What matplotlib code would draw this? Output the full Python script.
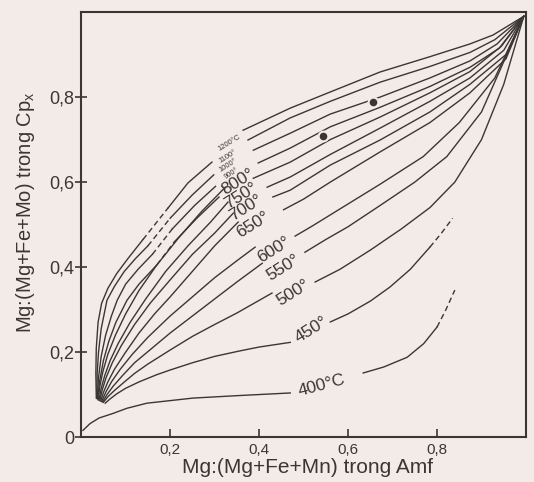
import numpy as np
import matplotlib.pyplot as plt

plt.rcParams['font.family'] = ['Liberation Sans', 'DejaVu Sans']
plt.rcParams['mathtext.fontset'] = 'custom'
plt.rcParams['mathtext.rm'] = 'Liberation Sans'

# --- isotherms (x = Mg# in Amf, y = Mg# in Cpx) ---
# a = lower-left part, d = dashed part, b = middle part, c = right of the label
x1200a = [0.034, 0.033, 0.034, 0.038, 0.046, 0.06, 0.08, 0.105, 0.139]
y1200a = [0.092, 0.15, 0.21, 0.27, 0.315, 0.35, 0.385, 0.42, 0.465]
x1200d = [0.139, 0.196]
y1200d = [0.465, 0.54]
x1200b = [0.196, 0.24, 0.294]
y1200b = [0.54, 0.598, 0.647]
x1200c = [0.364, 0.47, 0.56, 0.672, 0.784, 0.874, 0.926, 0.995]
y1200c = [0.722, 0.774, 0.812, 0.859, 0.895, 0.925, 0.946, 0.99]

x1100a = [0.035, 0.036, 0.039, 0.045, 0.058, 0.075, 0.097, 0.122, 0.15]
y1100a = [0.092, 0.15, 0.2, 0.255, 0.322, 0.355, 0.39, 0.42, 0.45]
x1100d = [0.15, 0.2]
y1100d = [0.45, 0.515]
x1100b = [0.2, 0.25, 0.298]
y1100b = [0.515, 0.57, 0.617]
x1100c = [0.375, 0.47, 0.56, 0.672, 0.784, 0.874, 0.93, 0.995]
y1100c = [0.699, 0.751, 0.79, 0.835, 0.872, 0.905, 0.935, 0.99]

x1000a = [0.036, 0.039, 0.045, 0.055, 0.068, 0.081, 0.1, 0.128, 0.16]
y1000a = [0.091, 0.14, 0.19, 0.24, 0.285, 0.322, 0.36, 0.395, 0.43]
x1000d = [0.16, 0.205]
y1000d = [0.43, 0.49]
x1000b = [0.205, 0.255, 0.302]
y1000b = [0.49, 0.545, 0.59]
x1000c = [0.387, 0.47, 0.56, 0.672, 0.784, 0.874, 0.935, 0.995]
y1000c = [0.675, 0.715, 0.76, 0.80, 0.845, 0.885, 0.925, 0.99]

x900a = [0.037, 0.042, 0.05, 0.062, 0.078, 0.103, 0.13, 0.17]
y900a = [0.09, 0.135, 0.18, 0.225, 0.27, 0.322, 0.36, 0.405]
x900d = [0.17, 0.21]
y900d = [0.405, 0.46]
x900b = [0.21, 0.26, 0.31]
y900b = [0.46, 0.515, 0.565]
x900c = [0.398, 0.47, 0.56, 0.672, 0.784, 0.874, 0.94, 0.995]
y900c = [0.645, 0.68, 0.73, 0.776, 0.825, 0.87, 0.915, 0.99]

x800a = [0.038, 0.042, 0.049, 0.06, 0.077, 0.1, 0.13, 0.17, 0.22, 0.27, 0.324]
y800a = [0.088, 0.12, 0.155, 0.195, 0.24, 0.29, 0.345, 0.405, 0.47, 0.53, 0.588]
x800c = [0.387, 0.47, 0.56, 0.672, 0.784, 0.874, 0.945, 0.995]
y800c = [0.609, 0.647, 0.70, 0.753, 0.81, 0.86, 0.92, 0.99]

x750a = [0.04, 0.045, 0.053, 0.065, 0.083, 0.11, 0.145, 0.19, 0.24, 0.29, 0.33]
y750a = [0.087, 0.115, 0.145, 0.18, 0.22, 0.27, 0.325, 0.39, 0.45, 0.505, 0.553]
x750c = [0.418, 0.47, 0.56, 0.672, 0.784, 0.874, 0.95, 0.995]
y750c = [0.588, 0.612, 0.665, 0.727, 0.79, 0.845, 0.91, 0.99]

x700a = [0.042, 0.047, 0.056, 0.07, 0.09, 0.12, 0.155, 0.2, 0.25, 0.3, 0.342]
y700a = [0.086, 0.11, 0.14, 0.175, 0.215, 0.265, 0.315, 0.37, 0.43, 0.48, 0.527]
x700c = [0.431, 0.47, 0.56, 0.672, 0.784, 0.874, 0.955, 0.995]
y700c = [0.565, 0.581, 0.64, 0.699, 0.765, 0.83, 0.9, 0.99]

x650a = [0.044, 0.05, 0.06, 0.075, 0.1, 0.13, 0.165, 0.2, 0.25, 0.3, 0.353]
y650a = [0.085, 0.105, 0.13, 0.16, 0.2, 0.245, 0.29, 0.33, 0.39, 0.45, 0.506]
x650c = [0.455, 0.5, 0.56, 0.672, 0.784, 0.874, 0.955, 0.995]
y650c = [0.535, 0.56, 0.6, 0.671, 0.74, 0.81, 0.89, 0.99]

x600a = [0.046, 0.055, 0.068, 0.088, 0.115, 0.15, 0.2, 0.25, 0.3, 0.35, 0.391]
y600a = [0.084, 0.105, 0.13, 0.16, 0.195, 0.235, 0.285, 0.33, 0.375, 0.415, 0.447]
x600c = [0.481, 0.52, 0.582, 0.672, 0.769, 0.85, 0.93, 0.995]
y600c = [0.473, 0.497, 0.537, 0.595, 0.66, 0.74, 0.845, 0.99]

x550a = [0.048, 0.058, 0.072, 0.093, 0.12, 0.16, 0.2, 0.25, 0.3, 0.35, 0.407]
y550a = [0.083, 0.1, 0.12, 0.145, 0.175, 0.21, 0.245, 0.285, 0.325, 0.365, 0.409]
x550c = [0.503, 0.55, 0.6, 0.672, 0.75, 0.822, 0.9, 0.995]
y550c = [0.435, 0.465, 0.495, 0.545, 0.6, 0.66, 0.765, 0.99]

x500a = [0.05, 0.06, 0.075, 0.095, 0.12, 0.15, 0.2, 0.25, 0.3, 0.35, 0.429]
y500a = [0.082, 0.095, 0.11, 0.128, 0.15, 0.172, 0.205, 0.237, 0.265, 0.292, 0.339]
x500c = [0.526, 0.582, 0.65, 0.72, 0.784, 0.84, 0.9, 0.95, 0.995]
y500c = [0.365, 0.395, 0.44, 0.49, 0.54, 0.6, 0.7, 0.83, 0.99]

x450a = [0.054, 0.065, 0.08, 0.1, 0.13, 0.17, 0.2, 0.25, 0.3, 0.357, 0.4, 0.47]
y450a = [0.08, 0.09, 0.102, 0.115, 0.13, 0.147, 0.158, 0.175, 0.19, 0.203, 0.212, 0.223]
x450c = [0.56, 0.6, 0.65, 0.694, 0.74, 0.784]
y450c = [0.271, 0.29, 0.32, 0.353, 0.395, 0.447]
x450d = [0.784, 0.81, 0.835]
y450d = [0.447, 0.48, 0.515]

x400a = [0.004, 0.02, 0.04, 0.072, 0.103, 0.148, 0.2, 0.252, 0.357, 0.47]
y400a = [0.016, 0.032, 0.045, 0.056, 0.068, 0.08, 0.086, 0.092, 0.098, 0.104]
x400c = [0.634, 0.68, 0.733, 0.77, 0.8]
y400c = [0.151, 0.165, 0.188, 0.22, 0.259]
x400d = [0.8, 0.82, 0.84]
y400d = [0.259, 0.3, 0.346]

# labels of the isotherms
lab_text = ['1200°C', '1100°', '1000°', '900°', '800°', '750°', '700°', '650°',
            '600°', '550°', '500°', '450°', '400°C']
lab_x = [0.333, 0.330, 0.330, 0.337, 0.353, 0.36, 0.371, 0.387, 0.434, 0.454, 0.476, 0.517, 0.542]
lab_y = [0.692, 0.659, 0.640, 0.621, 0.602, 0.569, 0.539, 0.501, 0.442, 0.398, 0.339, 0.252, 0.122]

# sample points
pt_x = [0.544, 0.656]
pt_y = [0.708, 0.788]

bg = '#f2ebe8'
ink = '#3b3636'

fig = plt.figure(figsize=(5.34, 4.82), dpi=100)
fig.patch.set_facecolor(bg)
ax = fig.add_axes([0.152, 0.093, 0.833, 0.882])
ax.set_facecolor(bg)

solid = [(x1200a, y1200a), (x1200b, y1200b), (x1200c, y1200c),
         (x1100a, y1100a), (x1100b, y1100b), (x1100c, y1100c),
         (x1000a, y1000a), (x1000b, y1000b), (x1000c, y1000c),
         (x900a, y900a), (x900b, y900b), (x900c, y900c),
         (x800a, y800a), (x800c, y800c), (x750a, y750a), (x750c, y750c),
         (x700a, y700a), (x700c, y700c), (x650a, y650a), (x650c, y650c),
         (x600a, y600a), (x600c, y600c), (x550a, y550a), (x550c, y550c),
         (x500a, y500a), (x500c, y500c), (x450a, y450a), (x450c, y450c),
         (x400a, y400a), (x400c, y400c)]
for xs, ys in solid:
    ax.plot(xs, ys, color=ink, lw=1.0, solid_joinstyle='round')

dashed = [(x1200d, y1200d), (x1100d, y1100d), (x1000d, y1000d), (x900d, y900d),
          (x450d, y450d), (x400d, y400d)]
for xs, ys in dashed:
    ax.plot(xs, ys, color=ink, lw=1.0, dashes=(4, 2.5))

# dots, with a light ring so the line looks broken at the dot
ax.plot(pt_x, pt_y, 'o', color=ink, ms=7, mec=bg, mew=1.5, zorder=5)

for i, t in enumerate(lab_text):
    if i < 4:
        fs = 5.5
    else:
        fs = 12.5
    rot = 15 if i == 12 else 32
    ax.text(lab_x[i], lab_y[i], t, fontsize=fs, rotation=rot, color=ink,
            ha='center', va='center', rotation_mode='anchor')

ax.set_xlim(0, 1)
ax.set_ylim(0, 1)
ax.set_xticks([0.2, 0.4, 0.6, 0.8])
ax.set_xticklabels(['0,2', '0,4', '0,6', '0,8'])
ax.set_yticks([0, 0.2, 0.4, 0.6, 0.8])
ax.set_yticklabels(['0', '0,2', '0,4', '0,6', '0,8'])
ax.tick_params(axis='x', direction='in', length=6, width=1.2, colors=ink, labelsize=11, pad=4)
ax.tick_params(axis='y', direction='inout', length=8, width=1.2, colors=ink, labelsize=13, pad=1)
for s in ax.spines.values():
    s.set_linewidth(1.5)
    s.set_color(ink)

ax.set_xlabel('Mg:(Mg+Fe+Mn) trong Amf', fontsize=15, color=ink, va='center')
ax.xaxis.set_label_coords(0.508, -0.072)
ax.set_ylabel(r'Mg:(Mg+Fe+Mo) trong Cp$_{\mathregular{x}}$', fontsize=14.5, color=ink, va='center')
ax.yaxis.set_label_coords(-0.126, 0.53)

fig.savefig('out.png', dpi=100, facecolor=bg)
